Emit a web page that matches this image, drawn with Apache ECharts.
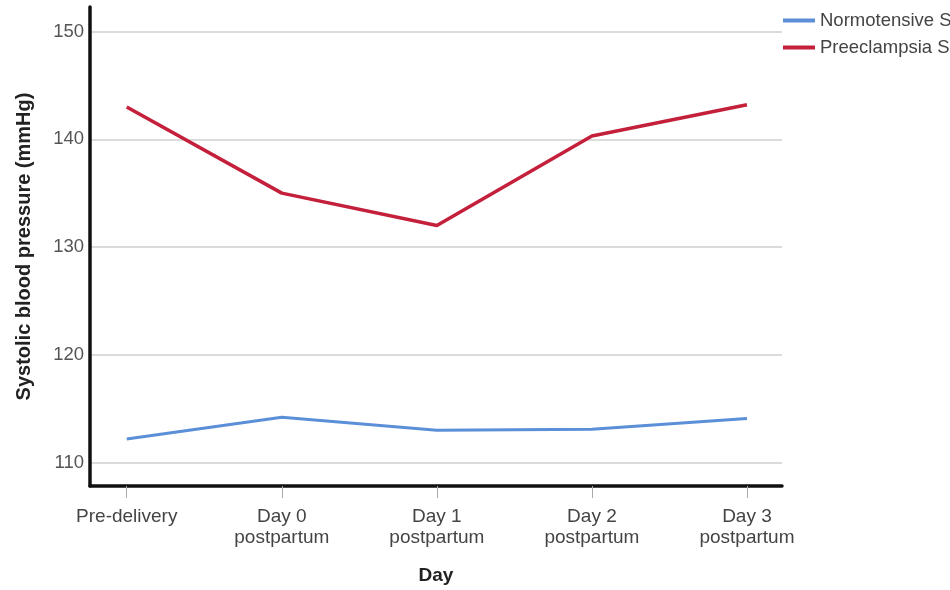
<!DOCTYPE html>
<html>
<head>
<meta charset="utf-8">
<script src="https://cdn.jsdelivr.net/npm/echarts@6/dist/echarts.min.js"></script>
<style>html,body{margin:0;padding:0;background:#fff;}#c{width:950px;height:590px;}</style>
</head>
<body>
<div id="c"></div>
<script>
const categories = ['Pre-delivery', 'Day 0\npostpartum', 'Day 1\npostpartum', 'Day 2\npostpartum', 'Day 3\npostpartum'];
const normotensive = [112.2, 114.2, 113.0, 113.1, 114.1];
const preeclampsia = [143.0, 135.0, 132.0, 140.3, 143.2];
const yTicks = [110, 120, 130, 140, 150];
const seriesNames = ['Normotensive Subjects', 'Preeclampsia Subjects'];

const font = 'Liberation Sans, Arial, sans-serif';
const chart = echarts.init(document.getElementById('c'), null, {renderer: 'canvas'});
const xIdx = categories.map((_, i) => i);
chart.setOption({
  animation: false,
  backgroundColor: '#fff',
  grid: {left: 90, right: 168, top: 7, bottom: 103.3, containLabel: false},
  legend: {
    orient: 'vertical', left: 783, top: 11, padding: 0, itemWidth: 32, itemHeight: 4, itemGap: 8,
    icon: 'rect',
    textStyle: {fontFamily: font, fontSize: 18.5, color: '#444'},
    data: seriesNames
  },
  xAxis: {
    type: 'value', min: -0.237, max: 4.226,
    name: 'Day', nameLocation: 'middle', nameGap: 80,
    nameTextStyle: {fontFamily: font, fontSize: 19, fontWeight: 'bold', color: '#222'},
    axisLine: {show: true, onZero: false, lineStyle: {color: '#111', width: 3.5}},
    axisTick: {show: true, customValues: xIdx, length: 12, lineStyle: {color: '#aaa', width: 1}},
    axisLabel: {customValues: xIdx, margin: 20, fontFamily: font, fontSize: 19, color: '#444', lineHeight: 21,
      formatter: v => categories[Math.round(v)]},
    splitLine: {show: false}
  },
  yAxis: {
    type: 'value', min: 107.83, max: 152.27,
    name: 'Systolic blood pressure (mmHg)', nameLocation: 'middle', nameGap: 56,
    nameTextStyle: {fontFamily: font, fontSize: 20, fontWeight: 'bold', color: '#222'},
    axisLine: {show: true, onZero: false, lineStyle: {color: '#111', width: 3.5}},
    axisTick: {show: false, customValues: yTicks},
    axisLabel: {customValues: yTicks, margin: 6, fontFamily: font, fontSize: 18.5, color: '#555'},
    splitLine: {show: true, lineStyle: {color: '#cfcfcf', width: 1.5}}
  },
  series: [
    {name: seriesNames[0], type: 'line', showSymbol: false, symbol: 'none', color: '#5b8fd8',
     lineStyle: {width: 3, color: '#5b8fd8'}, data: normotensive.map((v, i) => [xIdx[i], v])},
    {name: seriesNames[1], type: 'line', showSymbol: false, symbol: 'none', color: '#c41f3b',
     lineStyle: {width: 3.5, color: '#c41f3b'}, data: preeclampsia.map((v, i) => [xIdx[i], v])}
  ]
});
</script>
</body>
</html>
